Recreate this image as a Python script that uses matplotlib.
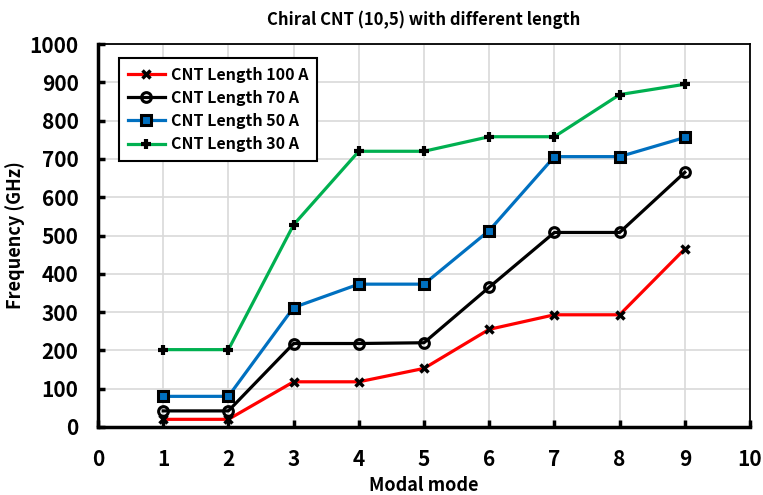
import matplotlib.pyplot as plt
import numpy as np

modes = [1, 2, 3, 4, 5, 6, 7, 8, 9]
len_100 = [20, 20, 118, 118, 153, 255, 293, 293, 465]
len_70 = [42, 42, 218, 218, 220, 365, 508, 508, 665]
len_50 = [80, 80, 312, 373, 373, 513, 706, 706, 756]
len_30 = [202, 202, 528, 720, 720, 758, 758, 868, 895]

plt.rcParams['font.family'] = ['Noto Sans CJK KR', 'DejaVu Sans']

fig = plt.figure(figsize=(7.63, 4.95), dpi=100)
ax = fig.add_axes([0.1284, 0.1374, 0.983 - 0.1284, 0.911 - 0.1374])

ax.plot(modes, len_100, color="#ff0000", lw=2.3, marker="x", ms=6, mec="black", mew=2.5,
        label="CNT Length 100 A")
ax.plot(modes, len_70, color="black", lw=2.3, marker="o", ms=7, mfc="none", mec="black", mew=2.2,
        label="CNT Length 70 A")
ax.plot(modes, len_50, color="#0070c0", lw=2.3, marker="s", ms=6.5, mfc="#0070c0", mec="black", mew=2.2,
        label="CNT Length 50 A")
ax.plot(modes, len_30, color="#00b050", lw=2.3, marker="+", ms=7, mec="black", mew=3,
        label="CNT Length 30 A")

ax.set_xlim(0, 10)
ax.set_ylim(0, 1000)
ax.set_xticks(np.arange(0, 11, 1))
ax.set_yticks(np.arange(0, 1001, 100))
ax.grid(True, color="#d9d9d9", lw=1.2)
ax.set_axisbelow(True)

ax.tick_params(direction="in", length=5, width=2.5, labelsize=15)
ax.tick_params(axis="y", pad=14)
ax.tick_params(axis="x", pad=16)
for lab in ax.get_xticklabels() + ax.get_yticklabels():
    lab.set_fontweight("bold")
for s in ["left", "bottom"]:
    ax.spines[s].set_linewidth(2.5)
for s in ["top", "right"]:
    ax.spines[s].set_linewidth(1.3)

ax.set_xlabel("Modal mode", fontsize=13, fontweight="bold", labelpad=4)
ax.set_ylabel("Frequency (GHz)", fontsize=13, fontweight="bold", labelpad=3)
ax.set_title("Chiral CNT (10,5) with different length", fontsize=12, fontweight="bold", pad=14)

leg = ax.legend(loc="upper left", bbox_to_anchor=(0.02, 0.985), fancybox=False, framealpha=1,
                edgecolor="black", fontsize=11.5, handlelength=2.3, handletextpad=0.4,
                borderpad=0.55, labelspacing=0.45)
leg.get_frame().set_linewidth(1.5)
for t in leg.get_texts():
    t.set_fontweight("bold")

plt.savefig("out.png", dpi=100)
